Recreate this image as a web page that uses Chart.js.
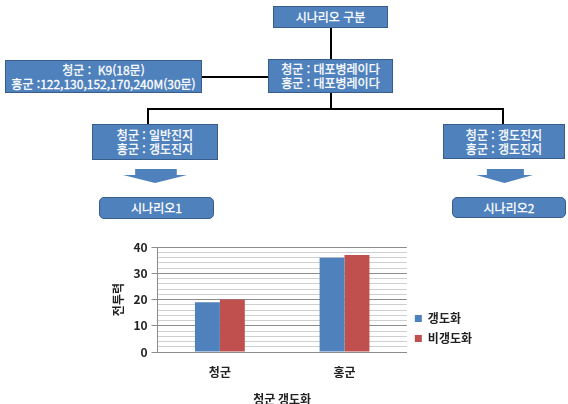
<!DOCTYPE html>
<html lang="ko">
<head>
<meta charset="utf-8">
<title>시나리오 구분</title>
<script src="https://cdn.jsdelivr.net/npm/chart.js@4/dist/chart.umd.min.js"></script>
<style>
    html, body { margin: 0; padding: 0; background: #fff; }
    body { width: 568px; height: 404px; position: relative; overflow: hidden; font-family: 'Noto Sans CJK KR', sans-serif; }
    .caja {
        position: absolute; box-sizing: border-box;
        background: #4F81BD; border: 1px solid #385D8A;
        color: #fff; font-size: 12px; line-height: 14px;
        -webkit-text-stroke: 0.3px #fff;
        display: flex; flex-direction: column; justify-content: center; align-items: center;
        white-space: pre;
    }
    .redonda { border-radius: 5px; border-width: 1.5px; }
    .linea { position: absolute; background: #000; }
    .flecha { position: absolute; background: #4F81BD; clip-path: polygon(19% 0, 84% 0, 84% 43%, 100% 43%, 50% 100%, 0 43%, 19% 43%); }
    #chart-wrap { position: absolute; left: 100px; top: 236px; width: 468px; height: 185px; }
</style>
</head>
<body>

<!-- diagrama de escenarios -->
<div class="caja" style="left:273px;top:6px;width:115px;height:22px;">시나리오 구분</div>
<div class="caja" style="left:268px;top:59px;width:125px;height:34px;"><span>청군 : 대포병레이다</span><span>홍군 : 대포병레이다</span></div>
<div class="caja" style="left:5px;top:60px;width:197px;height:33px;"><span>청군 :  K9(18문)</span><span>홍군 :122,130,152,170,240M(30문)</span></div>
<div class="caja" style="left:92px;top:124px;width:126px;height:36px;"><span>청군 : 일반진지</span><span>홍군 : 갱도진지</span></div>
<div class="caja" style="left:443px;top:124px;width:122px;height:35px;"><span>청군 : 갱도진지</span><span>홍군 : 갱도진지</span></div>
<div class="caja redonda" style="left:99px;top:197px;width:115px;height:22px;">시나리오1</div>
<div class="caja redonda" style="left:452px;top:197px;width:114px;height:21px;">시나리오2</div>

<div class="linea" style="left:330px;top:28px;width:2px;height:31px;"></div>
<div class="linea" style="left:202px;top:76px;width:66px;height:2px;"></div>
<div class="linea" style="left:330px;top:93px;width:2px;height:16px;"></div>
<div class="linea" style="left:147px;top:108px;width:357px;height:2px;"></div>
<div class="linea" style="left:147px;top:108px;width:2px;height:16px;"></div>
<div class="linea" style="left:502px;top:108px;width:2px;height:16px;"></div>

<div class="flecha" style="left:123px;top:169px;width:64px;height:14px;"></div>
<div class="flecha" style="left:476px;top:169px;width:57px;height:14px;"></div>

<div id="chart-wrap"><canvas id="grafico"></canvas></div>

<script>
// ===================================================
// DATOS
// ===================================================

const categorias = ['청군', '홍군'];
const serieNombres = ['갱도화', '비갱도화'];
const gangdohwa = [19, 36];
const bigangdohwa = [20, 37];
const yMin = 0;
const yMax = 40;
const yPaso = 2;        // lineas menores
const yPasoMayor = 10;  // etiquetas

const fuente = "'Noto Sans CJK KR', sans-serif";

// ===================================================
// GRAFICO
// ===================================================

const ctx = document.getElementById('grafico');
new Chart(ctx, {
    type: 'bar',
    data: {
        labels: categorias,
        datasets: [
            { label: serieNombres[0], data: gangdohwa, backgroundColor: '#4F81BD' },
            { label: serieNombres[1], data: bigangdohwa, backgroundColor: '#C0504D' }
        ]
    },
    options: {
        responsive: true,
        maintainAspectRatio: false,
        animation: false,
        categoryPercentage: 0.4,
        barPercentage: 1.0,
        layout: { padding: { left: 7, right: 86, top: 0, bottom: 0 } },
        plugins: {
            tooltip: { enabled: false },
            legend: {
                position: 'right',
                labels: {
                    boxWidth: 7, boxHeight: 7, padding: 8,
                    color: '#222',
                    font: { family: fuente, size: 12, weight: 'bold' }
                }
            }
        },
        scales: {
            x: {
                grid: { display: false, drawTicks: false },
                border: { color: '#8c8c8c' },
                ticks: { color: '#222', padding: 14, font: { family: fuente, size: 12, weight: 'bold', lineHeight: 1 } },
                title: {
                    display: true, text: '청군 갱도화', color: '#222',
                    font: { family: fuente, size: 12, weight: 'bold', lineHeight: 1 },
                    padding: { top: 1, bottom: 16 }
                }
            },
            y: {
                min: yMin, max: yMax,
                grid: {
                    color: c => (c.tick && c.tick.value % yPasoMayor === 0) ? '#8c8c8c' : '#cfcfcf',
                    tickColor: c => (c.tick && c.tick.value % yPasoMayor === 0) ? '#8c8c8c' : 'rgba(0,0,0,0)',
                    tickLength: 6
                },
                border: { color: '#8c8c8c' },
                ticks: {
                    stepSize: yPaso, padding: 4, autoSkip: false,
                    color: '#222', font: { family: fuente, size: 12, weight: 'bold' },
                    callback: v => (v % yPasoMayor === 0) ? v : ''
                },
                title: {
                    display: true, text: '전투력', color: '#222',
                    font: { family: fuente, size: 12, weight: 'bold' }
                }
            }
        }
    }
});
</script>
</body>
</html>
